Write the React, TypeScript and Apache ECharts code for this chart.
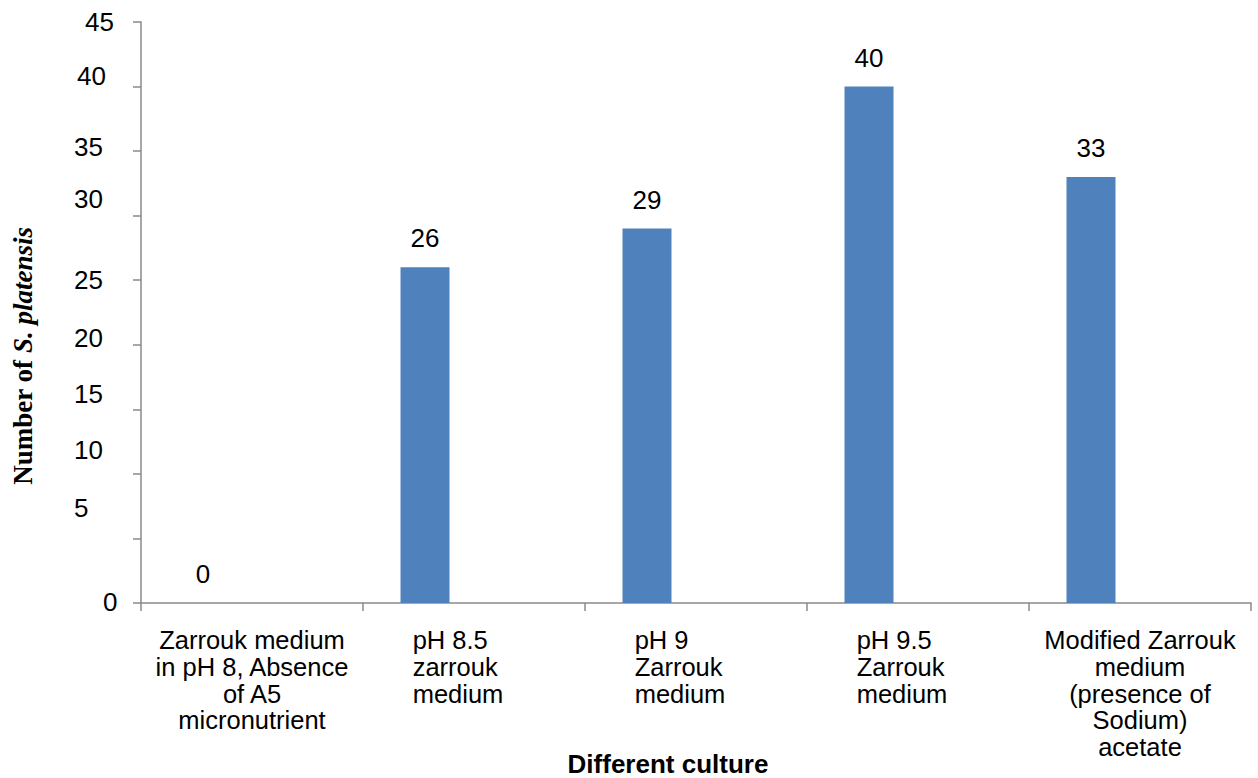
import React, { useEffect, useRef } from "react";
import * as echarts from "echarts";

// Culture conditions (category labels, pre-wrapped) and counts per condition
const categories = [
  "Zarrouk medium\nin pH 8, Absence\nof A5\nmicronutrient",
  "pH 8.5\nzarrouk\nmedium",
  "pH 9\nZarrouk\nmedium",
  "pH 9.5\nZarrouk\nmedium",
  "Modified Zarrouk\nmedium\n(presence of\nSodium)\nacetate",
];
const counts = [0, 26, 29, 40, 33];

// Value axis range
const yMin = 0;
const yMax = 45;
const yStep = 5;

const xTitle = "Different culture";
const yTitleLead = "Number of ";
const yTitleSpecies = "S. platensis";

// Presentation: per-tick label nudges [dx, dy] and which category labels are left-set
const yLabelNudge: Record<number, [number, number]> = {
  45: [11, 0],
  40: [3, -11],
  35: [0, -4],
  30: [0, -17],
  25: [0, 0],
  20: [0, -7],
  15: [0, -15],
  10: [0, -24],
  5: [0, -30],
  0: [29, -1],
};
const xLabelLeftSet = [false, true, true, true, false];

const SANS = '"Liberation Sans", Arial, sans-serif';
const SERIF = '"Liberation Serif", "Times New Roman", serif';
const AXIS_GREY = "#8a8a8a";
const BAR_BLUE = "#4F81BD";

export default function App() {
  const ref = useRef<HTMLDivElement>(null);

  useEffect(() => {
    if (!ref.current) return;
    const chart = echarts.init(ref.current, null, { renderer: "svg" });

    const yRich: Record<string, any> = {};
    Object.keys(yLabelNudge).forEach((k) => {
      const [dx, dy] = yLabelNudge[Number(k)];
      yRich["v" + k] = {
        fontFamily: SANS,
        fontSize: 26,
        lineHeight: 26,
        color: "#000",
        padding: [dy > 0 ? 2 * dy : 0, 0, dy < 0 ? -2 * dy : 0, dx],
      };
    });

    const lineStyle = { fontFamily: SANS, fontSize: 25.5, lineHeight: 26.7, color: "#000" };

    chart.setOption({
      animation: false,
      backgroundColor: "#fff",
      grid: { left: 141, right: 7, top: 22, bottom: 175, containLabel: false },
      xAxis: {
        type: "category",
        data: categories,
        axisLine: { show: true, lineStyle: { color: AXIS_GREY, width: 1.5 } },
        axisTick: { show: true, length: 8, lineStyle: { color: AXIS_GREY, width: 1.5 } },
        axisLabel: {
          interval: 0,
          margin: 24,
          formatter: (value: string, index: number) => {
            const tag = xLabelLeftSet[index] ? "l" : "c";
            return value
              .split("\n")
              .map((ln) => `{${tag}|${ln}}`)
              .join("\n");
          },
          rich: {
            c: { ...lineStyle, align: "center" },
            l: { ...lineStyle, align: "left", padding: [0, 32, 0, 0] },
          },
        },
      },
      yAxis: {
        type: "value",
        min: yMin,
        max: yMax,
        interval: yStep,
        splitLine: { show: false },
        axisLine: { show: true, lineStyle: { color: AXIS_GREY, width: 1.5 } },
        axisTick: { show: true, length: 8, lineStyle: { color: AXIS_GREY, width: 1.5 } },
        axisLabel: {
          align: "left",
          margin: 67,
          formatter: (v: number) => `{v${v}|${v}}`,
          rich: yRich,
        },
      },
      series: [
        {
          type: "bar",
          name: "Count",
          data: counts,
          barWidth: 49,
          barGap: "100%",
          itemStyle: { color: BAR_BLUE },
          label: {
            show: true,
            position: "top",
            distance: 16,
            fontFamily: SANS,
            fontSize: 26,
            color: "#000",
          },
        },
        {
          type: "bar",
          name: "Reserved",
          data: [],
          barWidth: 49,
        },
      ],
      graphic: [
        {
          type: "text",
          x: 668,
          y: 764,
          style: {
            text: xTitle,
            fontFamily: SANS,
            fontWeight: "bold",
            fontSize: 26,
            fill: "#000",
            align: "center",
            verticalAlign: "middle",
          },
        },
        {
          type: "text",
          x: 23,
          y: 356,
          rotation: Math.PI / 2,
          style: {
            text: `{a|${yTitleLead}}{b|${yTitleSpecies}}`,
            align: "center",
            verticalAlign: "middle",
            rich: {
              a: { fontFamily: SERIF, fontWeight: "bold", fontSize: 27, fill: "#000" },
              b: {
                fontFamily: SERIF,
                fontWeight: "bold",
                fontStyle: "italic",
                fontSize: 27,
                fill: "#000",
              },
            },
          },
        },
      ],
    });

    return () => chart.dispose();
  }, []);

  return (
    <div
      ref={ref}
      style={{ position: "absolute", left: 0, top: 0, width: 1258, height: 778, background: "#fff" }}
    />
  );
}
